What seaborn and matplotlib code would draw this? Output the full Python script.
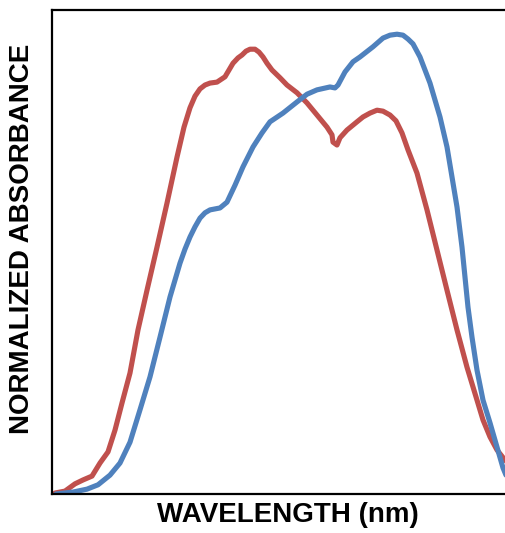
import matplotlib
matplotlib.use("Agg")
import matplotlib.pyplot as plt
import seaborn as sns
import pandas as pd

# Red spectrum
red_wl = [355, 365, 375, 383, 392, 400, 408, 415, 422, 430,
          438, 447, 457, 467, 477, 484, 490, 495, 500, 505,
          510, 517, 525, 529, 533, 538, 542, 546, 550, 555,
          559, 563, 567, 572, 580, 587, 597, 607, 617, 627,
          632, 633, 637, 640, 647, 657, 663, 670, 677, 683,
          690, 696, 702, 708, 717, 727, 737, 747, 757, 767,
          777, 783, 790, 797, 805, 812]
red_abs = [0.002, 0.006, 0.021, 0.029, 0.037, 0.064, 0.087, 0.132, 0.188, 0.250,
           0.339, 0.421, 0.510, 0.601, 0.696, 0.758, 0.798, 0.822, 0.837, 0.845,
           0.849, 0.851, 0.862, 0.876, 0.890, 0.901, 0.907, 0.915, 0.919, 0.919,
           0.913, 0.903, 0.890, 0.876, 0.860, 0.845, 0.829, 0.808, 0.783, 0.758,
           0.742, 0.727, 0.721, 0.736, 0.752, 0.769, 0.779, 0.787, 0.793, 0.791,
           0.783, 0.771, 0.746, 0.711, 0.663, 0.587, 0.504, 0.421, 0.339, 0.262,
           0.194, 0.153, 0.118, 0.091, 0.070, 0.058]

# Blue spectrum
blue_wl = [356, 373, 387, 398, 410, 420, 430, 440, 450, 460,
           470, 480, 485, 490, 495, 500, 505, 510, 520, 527,
           535, 543, 553, 562, 570, 583, 597, 607, 617, 630,
           635, 638, 645, 653, 660, 673, 683, 690, 697, 703,
           708, 713, 720, 730, 740, 747, 752, 757, 762, 765,
           768, 772, 777, 783, 790, 797, 803, 810]
blue_abs = [0.000, 0.004, 0.010, 0.019, 0.039, 0.064, 0.107, 0.174, 0.242, 0.324,
            0.407, 0.477, 0.506, 0.531, 0.552, 0.570, 0.581, 0.587, 0.591, 0.603,
            0.638, 0.676, 0.717, 0.746, 0.769, 0.787, 0.810, 0.826, 0.835, 0.841,
            0.839, 0.845, 0.872, 0.893, 0.903, 0.924, 0.942, 0.948, 0.950, 0.948,
            0.940, 0.930, 0.903, 0.849, 0.779, 0.717, 0.655, 0.593, 0.510, 0.448,
            0.386, 0.324, 0.256, 0.194, 0.147, 0.097, 0.054, 0.019]

x_label = "WAVELENGTH (nm)"
y_label = "NORMALIZED ABSORBANCE"

sns.set_style("white")
plt.rcParams["font.family"] = ["Liberation Sans", "DejaVu Sans"]

df_red = pd.DataFrame({"wl": red_wl, "abs": red_abs})
df_blue = pd.DataFrame({"wl": blue_wl, "abs": blue_abs})

W, H = 505, 533
fig = plt.figure(figsize=(W / 100, H / 100), dpi=100)
ax = fig.add_axes([52 / W, (H - 494) / H, (524 - 52) / W, (494 - 10) / H])

line_kw = dict(linewidth=3.7, solid_joinstyle="round", solid_capstyle="round")
sns.lineplot(data=df_red, x="wl", y="abs", color="#C0504D", ax=ax, sort=False, **line_kw)
sns.lineplot(data=df_blue, x="wl", y="abs", color="#4F81BD", ax=ax, sort=False, **line_kw)

ax.set_xlim(352, 824)
ax.set_ylim(0, 1)
ax.set_xticks([])
ax.set_yticks([])
for side in ["left", "bottom", "top"]:
    ax.spines[side].set_visible(True)
    ax.spines[side].set_color("black")
    ax.spines[side].set_linewidth(1.6)
ax.spines["right"].set_visible(False)

ax.set_xlabel(x_label, fontsize=20, fontweight="bold", va="center", color="black")
ax.set_ylabel(y_label, fontsize=20, fontweight="bold", va="center", color="black")
ax.xaxis.set_label_coords(0.5, -0.043)
ax.yaxis.set_label_coords(-0.0636, 0.527)

fig.savefig("out.png", dpi=100)
